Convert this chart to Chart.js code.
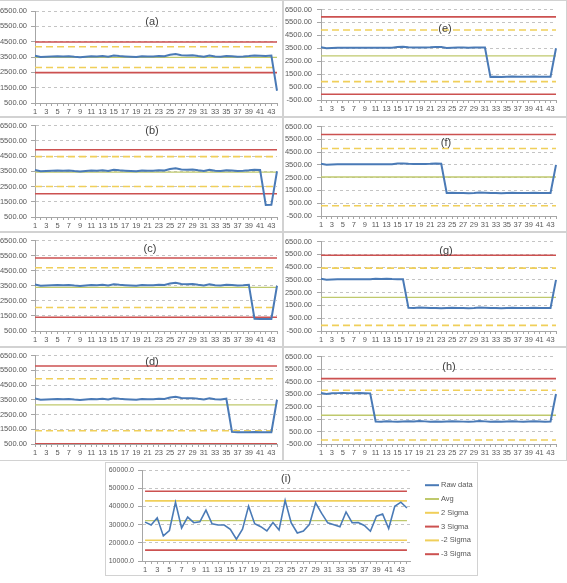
<!DOCTYPE html>
<html>
<head>
<meta charset="utf-8">
<script src="https://cdn.jsdelivr.net/npm/chart.js"></script>
<style>
html, body { margin:0; padding:0; background:#fff; }
body { position:relative; width:567px; height:583px; overflow:hidden; }
canvas { position:absolute; }
.frame { position:absolute; box-sizing:border-box; border:1px solid #d2d2d2; pointer-events:none; }
</style>
</head>
<body>
<script>
// categories (sample number)
const xLabels = ['1','2','3','4','5','6','7','8','9','10','11','12','13','14','15','16','17','18','19','20','21','22',
                 '23','24','25','26','27','28','29','30','31','32','33','34','35','36','37','38','39','40','41','42','43','44'];

const seriesNames = ['Raw data', 'Avg', '2 Sigma', '3 Sigma', '-2 Sigma', '-3 Sigma'];

// raw data
const rawA = [3580,3500,3520,3540,3550,3530,3550,3510,3490,3520,3550,3540,3560,3520,3600,3560,3540,3520,3500,3550,3530,3540,
              3560,3550,3650,3700,3620,3600,3610,3560,3520,3600,3540,3520,3570,3550,3520,3530,3560,3600,3580,3560,3590,1300];
const rawB = [3580,3500,3520,3540,3550,3530,3550,3510,3490,3520,3550,3540,3560,3520,3600,3560,3540,3520,3500,3550,3530,3540,
              3560,3550,3650,3700,3620,3600,3610,3560,3520,3600,3540,3520,3570,3550,3520,3530,3560,3600,3580,1290,1300,3500];
const rawC = [3580,3500,3520,3540,3550,3530,3550,3510,3490,3520,3550,3540,3560,3520,3600,3560,3540,3520,3500,3550,3530,3540,
              3560,3550,3650,3700,3620,3600,3610,3560,3520,3600,3540,3520,3570,3550,3520,3530,3560,1310,1300,1290,1300,3500];
const rawD = [3580,3500,3520,3540,3550,3530,3550,3510,3490,3520,3550,3540,3560,3520,3600,3560,3540,3520,3500,3550,3530,3540,
              3560,3550,3650,3700,3620,3600,3610,3560,3520,3600,3540,3520,3570,1320,1300,1290,1300,1310,1300,1290,1300,3500];
const rawE = [3580,3500,3530,3540,3550,3540,3550,3540,3540,3550,3550,3540,3550,3550,3600,3610,3580,3560,3560,3570,3580,3600,
              3590,3520,3540,3560,3560,3550,3560,3560,3560,1290,1300,1280,1300,1320,1300,1290,1300,1310,1300,1290,1300,3500];
const rawF = [3580,3500,3530,3540,3550,3540,3550,3540,3540,3550,3550,3540,3550,3550,3600,3610,3580,3560,3560,3570,3580,3600,
              3590,1300,1310,1300,1290,1280,1300,1330,1310,1290,1300,1280,1300,1320,1300,1290,1300,1310,1300,1290,1300,3500];
const rawG = [3580,3500,3530,3540,3550,3540,3550,3540,3540,3550,3580,3570,3590,3560,3550,3540,1310,1300,1330,1310,1290,1300,
              1280,1300,1310,1300,1290,1280,1300,1330,1310,1290,1300,1280,1300,1320,1300,1290,1300,1310,1300,1290,1300,3500];
const rawH = [3580,3500,3560,3570,3580,3570,3560,3570,3560,3550,1300,1290,1320,1300,1290,1300,1310,1300,1330,1310,1290,1300,
              1280,1300,1310,1300,1290,1280,1300,1330,1310,1290,1300,1280,1300,1320,1300,1290,1300,1310,1300,1290,1300,3500];
const rawI = [31400,29800,33800,23800,26800,42300,28200,34200,31100,31600,38000,30500,29800,29800,27500,22000,27500,40200,30500,28900,26600,31200,
              27100,43400,31000,25400,26500,30200,42000,36200,31000,30000,28800,37000,31100,31200,29600,26400,34700,35900,27900,40100,42400,39200];

// control lines: [Avg, 2 Sigma, 3 Sigma, -2 Sigma, -3 Sigma]
const statsA = [3480, 4170, 4480, 2820, 2480];
const statsB = [3440, 4460, 4910, 2500, 2020];
const statsC = [3390, 4690, 5340, 2060, 1410];
const statsD = [3150, 4920, 5790, 1400, 520];
const statsE = [2920, 4920, 5930, 920, -60];
const statsF = [2550, 4780, 5880, 300, -820];
const statsG = [2130, 4420, 5420, -60, -1100];
const statsH = [1800, 3800, 4730, -180, -1100];
const statsI = [32200, 43100, 48400, 21400, 16000];

// y axis ranges
const rangeAD = [500, 6500, 1000];
const rangeEH = [-500, 6500, 1000];
const rangeI = [10000, 60000, 10000];

const BLUE = '#4a7ab6', AVG = '#bfc96c', YEL = '#f0cf5a', RED = '#cc5150';
const AXIS = '#a6a6a6', GRID = '#c4c4c4', TXT = '#595959';
const FONT = '"Liberation Sans", Arial, sans-serif';

// tile [x, y, w, h] and plot box [left, top, right, bottom] in page pixels
const panels = [
  {title:'(a)', raw:rawA, stats:statsA, range:rangeAD, tile:[0,0,283,117],   plot:[35,11,277,103],  tpos:[117,11]},
  {title:'(b)', raw:rawB, stats:statsB, range:rangeAD, tile:[0,117,283,115], plot:[35,125,277,217], tpos:[117,5]},
  {title:'(c)', raw:rawC, stats:statsC, range:rangeAD, tile:[0,232,283,115], plot:[35,238,277,331], tpos:[115,8]},
  {title:'(d)', raw:rawD, stats:statsD, range:rangeAD, tile:[0,347,283,114], plot:[35,352,277,444], tpos:[117,6]},
  {title:'(e)', raw:rawE, stats:statsE, range:rangeEH, tile:[283,0,284,117],   plot:[321,8,556,100],   tpos:[124,19]},
  {title:'(f)', raw:rawF, stats:statsF, range:rangeEH, tile:[283,117,284,115], plot:[321,124,556,216], tpos:[125,16]},
  {title:'(g)', raw:rawG, stats:statsG, range:rangeEH, tile:[283,232,284,115], plot:[321,237,556,331], tpos:[125,9]},
  {title:'(h)', raw:rawH, stats:statsH, range:rangeEH, tile:[283,347,284,114], plot:[321,351,556,444], tpos:[128,10]},
  {title:'(i)', raw:rawI, stats:statsI, range:rangeI, tile:[105,462,373,114], plot:[142,466,410,561], tpos:[144,9],
   big:true}
];

const panelTitle = {
  id: 'panelTitle',
  afterDatasetsDraw(chart, args, opts){
    const {ctx, chartArea} = chart;
    ctx.save();
    ctx.font = '11px ' + FONT;
    ctx.fillStyle = '#404040';
    ctx.textAlign = 'center';
    ctx.textBaseline = 'middle';
    ctx.fillText(opts.text, chartArea.left + opts.dx, chartArea.top + opts.dy);
    ctx.restore();
  }
};

const sideLegend = {
  id: 'sideLegend',
  afterDraw(chart, args, opts){
    if(!opts.show) return;
    const {ctx, chartArea} = chart;
    ctx.save();
    ctx.font = '7.5px ' + FONT;
    ctx.textBaseline = 'middle';
    ctx.textAlign = 'left';
    chart.data.datasets.forEach((ds, i) => {
      const y = chartArea.top + 15 + i * 13.8;
      const x = chartArea.right + 15;
      ctx.strokeStyle = ds.borderColor;
      ctx.lineWidth = 2;
      ctx.beginPath(); ctx.moveTo(x, y); ctx.lineTo(x + 14, y); ctx.stroke();
      ctx.fillStyle = TXT;
      ctx.fillText(ds.label, x + 16, y);
    });
    ctx.restore();
  }
};

function flat(v){ return xLabels.map(() => v); }

panels.forEach(p => {
  const [tx, ty, tw, th] = p.tile;
  const [pl, pt, pr, pb] = p.plot;
  const cv = document.createElement('canvas');
  cv.width = tw; cv.height = th;
  cv.style.left = tx + 'px'; cv.style.top = ty + 'px';
  cv.style.width = tw + 'px'; cv.style.height = th + 'px';
  document.body.appendChild(cv);

  const frame = document.createElement('div');
  frame.className = 'frame';
  const fx = tx === 0 ? -1 : tx;
  frame.style.left = fx + 'px'; frame.style.top = ty + 'px';
  frame.style.width = (tw + tx - fx) + 'px'; frame.style.height = th + 'px';
  document.body.appendChild(frame);

  const dash = p.big ? [] : [7, 4];
  const s = p.stats;
  const datasets = [
    {label: seriesNames[0], data: p.raw, borderColor: BLUE, borderWidth: p.big ? 1.6 : 2},
    {label: seriesNames[1], data: flat(s[0]), borderColor: AVG, borderWidth: 1.3},
    {label: seriesNames[2], data: flat(s[1]), borderColor: YEL, borderWidth: 1.6, borderDash: dash},
    {label: seriesNames[3], data: flat(s[2]), borderColor: RED, borderWidth: 1.6},
    {label: seriesNames[4], data: flat(s[3]), borderColor: YEL, borderWidth: 1.6, borderDash: dash},
    {label: seriesNames[5], data: flat(s[4]), borderColor: RED, borderWidth: 1.6}
  ];
  datasets.forEach(d => { d.pointRadius = 0; d.tension = 0; d.fill = false; });

  const [yMin, yMax, yStep] = p.range;
  new Chart(cv, {
    type: 'line',
    data: { labels: xLabels, datasets: datasets },
    options: {
      responsive: false,
      animation: false,
      devicePixelRatio: 1,
      events: [],
      layout: { padding: { top: pt - ty, right: (tx + tw) - pr, left: 0, bottom: 0 } },
      plugins: {
        legend: { display: false },
        tooltip: { enabled: false },
        panelTitle: { text: p.title, dx: p.tpos[0], dy: p.tpos[1] },
        sideLegend: { show: !!p.big }
      },
      scales: {
        x: {
          offset: !!p.big,
          grid: { drawOnChartArea: false, drawTicks: true, tickLength: 3, tickColor: AXIS },
          border: { color: AXIS, width: 1 },
          ticks: {
            autoSkip: false, maxRotation: 0, minRotation: 0, padding: 1,
            color: TXT, font: { family: FONT, size: 7.5 },
            callback: (v, i) => i % 2 === 0 ? xLabels[i] : ''
          },
          afterFit: sc => { sc.height = (ty + th) - pb; }
        },
        y: {
          min: yMin, max: yMax,
          grid: { color: GRID, lineWidth: 1, drawTicks: true, tickLength: 4, tickColor: AXIS },
          border: { color: AXIS, width: 1, dash: [3, 3] },
          ticks: {
            stepSize: yStep, autoSkip: false, padding: p.tile[0] === 283 ? 5 : 4,
            color: TXT, font: { family: FONT, size: p.big ? 7 : 7.5 },
            callback: v => p.big ? v.toFixed(1) : v.toFixed(2)
          },
          afterFit: sc => { sc.width = pl - tx; }
        }
      }
    },
    plugins: [panelTitle, sideLegend]
  });
});
</script>
</body>
</html>
